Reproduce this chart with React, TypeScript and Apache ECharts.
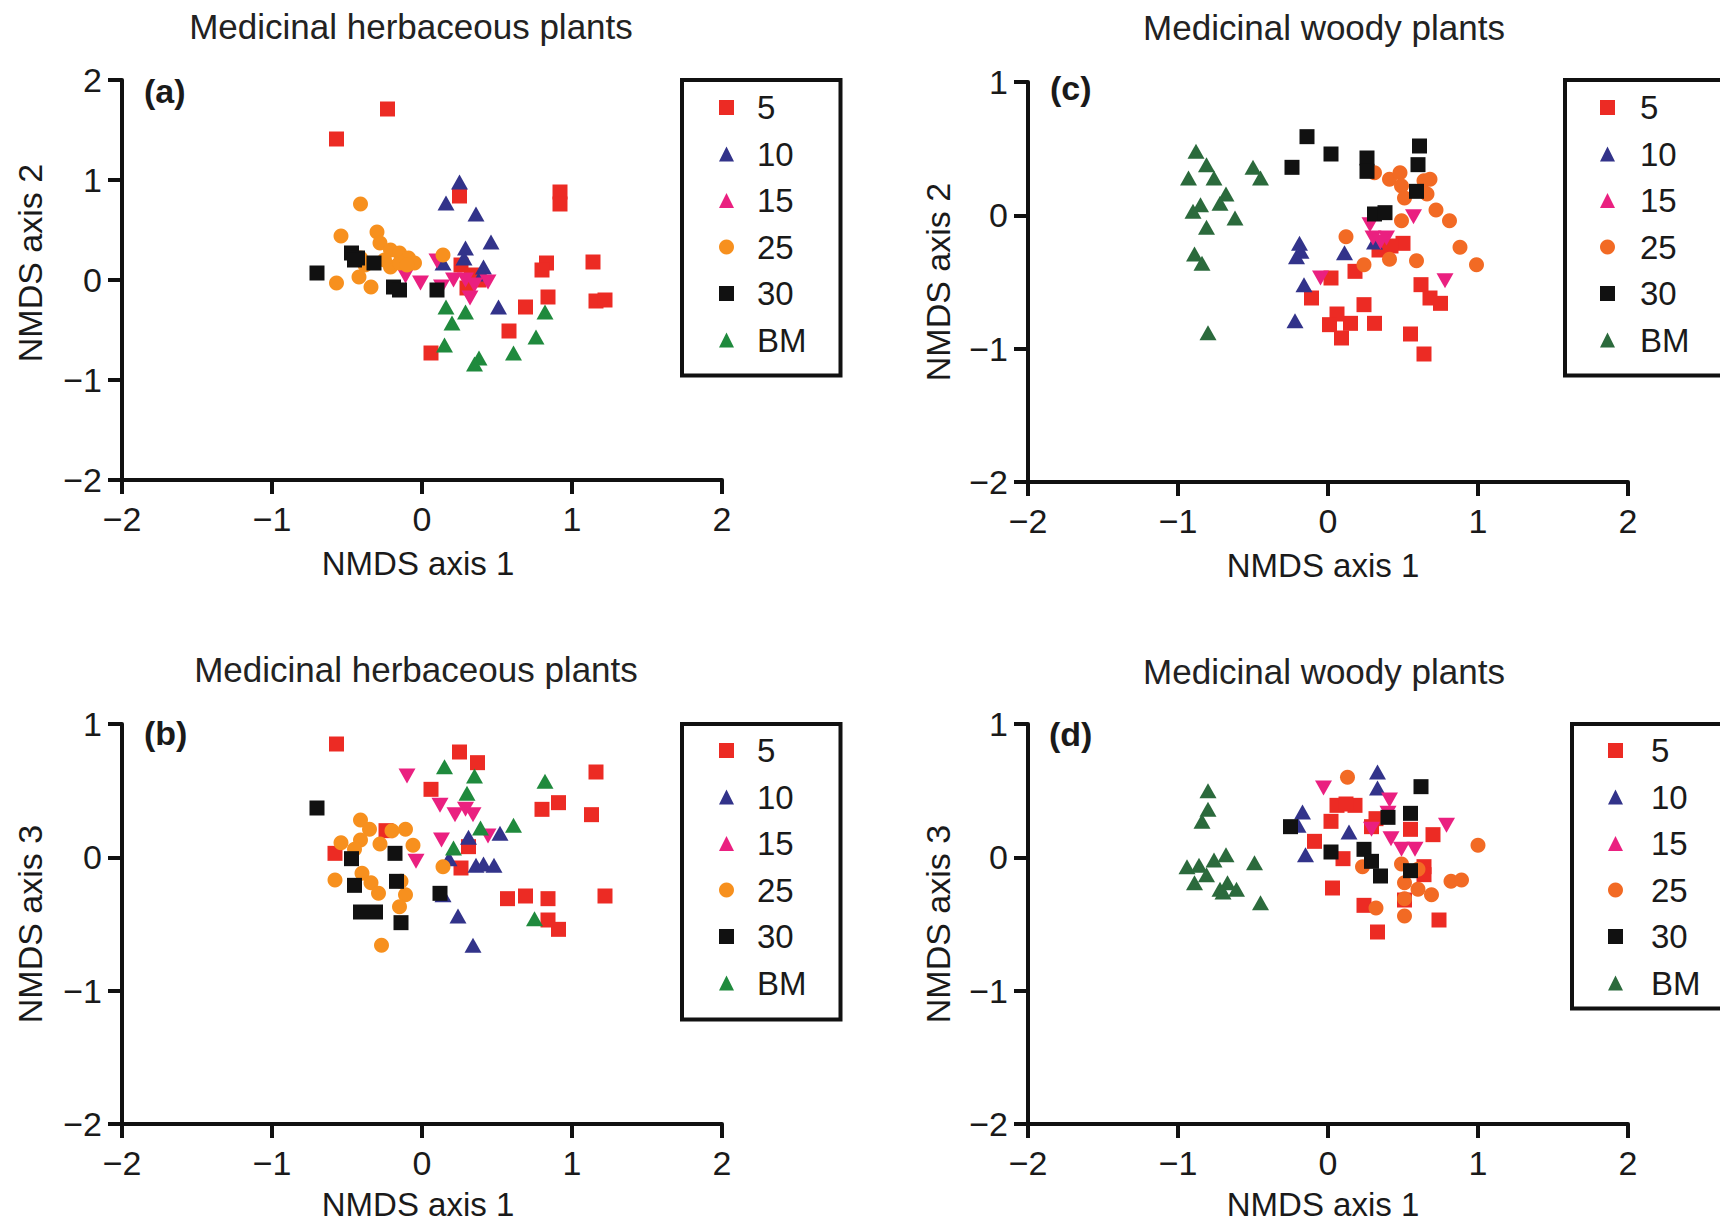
import React, { useEffect, useRef } from "react";
import * as echarts from "echarts";

const FONT = '"Liberation Sans", Arial, Helvetica, sans-serif';

const groupLabels = ["5", "10", "15", "25", "30", "BM"];
const xTicks = [-2, -1, 0, 1, 2];

// Panel (a): herbaceous, NMDS1 vs NMDS2
const a5 = [[-0.23,1.71],[-0.57,1.41],[0.25,0.84],[0.92,0.88],[0.92,0.76],[1.14,0.18],[0.83,0.17],[0.80,0.10],[0.84,-0.17],[0.69,-0.27],[0.58,-0.51],[0.06,-0.73],[1.16,-0.21],[1.22,-0.20],[0.26,0.15],[0.33,0.05],[0.38,0.0],[0.30,-0.08]];
const a10 = [[0.25,0.98],[0.16,0.77],[0.36,0.66],[0.46,0.38],[0.29,0.32],[0.28,0.22],[0.14,0.17],[0.41,0.13],[0.40,0.06],[0.51,-0.27]];
const a15 = [[-0.11,0.04],[-0.01,-0.03],[0.10,0.19],[0.13,-0.07],[0.21,0.0],[0.29,0.0],[0.32,-0.18],[0.44,-0.02],[0.35,-0.05]];
const a25 = [[-0.41,0.76],[-0.54,0.44],[-0.30,0.48],[-0.28,0.37],[-0.21,0.30],[-0.15,0.27],[-0.09,0.22],[-0.05,0.17],[-0.41,0.22],[-0.38,0.15],[-0.42,0.03],[-0.34,-0.07],[-0.57,-0.03],[-0.21,0.13],[-0.15,0.17],[0.14,0.25],[-0.25,0.20],[-0.10,0.15]];
const a30 = [[-0.70,0.07],[-0.47,0.27],[-0.43,0.22],[-0.32,0.17],[-0.19,-0.07],[-0.15,-0.10],[0.10,-0.10],[-0.45,0.20]];
const aBM = [[0.16,-0.27],[0.29,-0.32],[0.20,-0.43],[0.15,-0.65],[0.38,-0.78],[0.35,-0.84],[0.61,-0.73],[0.76,-0.57],[0.82,-0.32]];

// Panel (b): herbaceous, NMDS1 vs NMDS3
const b5 = [[-0.57,0.85],[0.25,0.79],[0.37,0.71],[1.16,0.64],[0.06,0.51],[0.91,0.41],[0.80,0.36],[1.13,0.32],[-0.24,0.20],[0.31,0.08],[-0.58,0.03],[0.26,-0.08],[0.57,-0.31],[0.69,-0.29],[0.84,-0.31],[1.22,-0.29],[0.84,-0.47],[0.91,-0.54]];
const b10 = [[0.52,0.18],[0.31,0.15],[0.18,-0.01],[0.36,-0.06],[0.41,-0.05],[0.48,-0.06],[0.14,-0.28],[0.24,-0.44],[0.34,-0.66]];
const b15 = [[-0.10,0.61],[0.12,0.39],[0.22,0.32],[0.29,0.36],[0.34,0.32],[0.13,0.13],[0.44,0.16],[-0.04,-0.03]];
const b25 = [[-0.41,0.28],[-0.35,0.21],[-0.41,0.13],[-0.54,0.11],[-0.45,0.06],[-0.11,0.21],[-0.06,0.09],[-0.40,-0.12],[-0.34,-0.19],[-0.29,-0.27],[-0.58,-0.17],[-0.14,-0.18],[-0.11,-0.28],[-0.15,-0.37],[-0.27,-0.66],[0.14,-0.07],[-0.28,0.10],[-0.20,0.20]];
const b30 = [[-0.70,0.37],[-0.47,-0.01],[-0.18,0.03],[-0.45,-0.21],[-0.17,-0.18],[-0.41,-0.41],[-0.31,-0.41],[-0.14,-0.49],[0.12,-0.27]];
const bBM = [[0.15,0.68],[0.35,0.61],[0.30,0.48],[0.82,0.57],[0.61,0.24],[0.39,0.22],[0.21,0.07],[0.75,-0.46]];

// Panel (c): woody, NMDS1 vs NMDS2
const c5 = [[0.50,-0.21],[0.34,-0.26],[0.42,-0.23],[0.18,-0.42],[0.02,-0.47],[-0.11,-0.62],[0.24,-0.67],[0.06,-0.74],[0.01,-0.82],[0.15,-0.81],[0.31,-0.81],[0.09,-0.92],[0.55,-0.89],[0.64,-1.04],[0.62,-0.52],[0.68,-0.62],[0.75,-0.66]];
const c10 = [[-0.19,-0.21],[-0.18,-0.27],[-0.21,-0.31],[0.11,-0.28],[0.31,-0.20],[-0.16,-0.52],[-0.22,-0.79]];
const c15 = [[0.57,-0.01],[0.28,-0.07],[0.30,-0.17],[0.39,-0.17],[-0.05,-0.47],[0.78,-0.49],[0.35,-0.20]];
const c25 = [[0.31,0.32],[0.41,0.27],[0.48,0.32],[0.49,0.22],[0.64,0.26],[0.68,0.27],[0.51,0.13],[0.66,0.16],[0.72,0.04],[0.81,-0.04],[0.49,-0.04],[0.12,-0.16],[0.88,-0.24],[0.99,-0.37],[0.59,-0.34],[0.24,-0.37],[0.41,-0.33]];
const c30 = [[-0.14,0.59],[0.02,0.46],[-0.24,0.36],[0.26,0.43],[0.26,0.33],[0.61,0.52],[0.60,0.38],[0.59,0.18],[0.31,0.01],[0.38,0.02]];
const cBM = [[-0.88,0.48],[-0.81,0.38],[-0.93,0.28],[-0.76,0.28],[-0.50,0.36],[-0.45,0.28],[-0.68,0.16],[-0.72,0.09],[-0.85,0.08],[-0.90,0.03],[-0.62,-0.02],[-0.81,-0.09],[-0.89,-0.29],[-0.84,-0.36],[-0.80,-0.88]];

// Panel (d): woody, NMDS1 vs NMDS3
const d5 = [[0.06,0.39],[0.18,0.39],[0.02,0.27],[0.32,0.29],[0.55,0.21],[0.70,0.17],[-0.09,0.12],[0.10,-0.01],[0.64,-0.07],[0.64,-0.13],[0.03,-0.23],[0.24,-0.36],[0.51,-0.32],[0.33,-0.56],[0.74,-0.47],[0.29,0.23],[0.12,0.40]];
const d10 = [[0.33,0.64],[0.33,0.52],[-0.17,0.34],[-0.20,0.24],[0.14,0.19],[-0.15,0.02]];
const d15 = [[-0.03,0.52],[0.41,0.43],[0.40,0.33],[0.29,0.21],[0.79,0.24],[0.42,0.14],[0.58,0.06],[0.49,0.06]];
const d25 = [[0.13,0.60],[1.00,0.09],[0.23,-0.07],[0.49,-0.05],[0.60,-0.09],[0.60,-0.24],[0.51,-0.19],[0.69,-0.28],[0.82,-0.18],[0.89,-0.17],[0.32,-0.38],[0.51,-0.44],[0.51,-0.31]];
const d30 = [[0.62,0.53],[-0.25,0.23],[0.55,0.33],[0.02,0.04],[0.24,0.06],[0.29,-0.03],[0.35,-0.14],[0.55,-0.10],[0.40,0.30]];
const dBM = [[-0.80,0.50],[-0.80,0.36],[-0.84,0.27],[-0.68,0.02],[-0.76,-0.02],[-0.49,-0.04],[-0.94,-0.07],[-0.86,-0.06],[-0.81,-0.13],[-0.89,-0.19],[-0.72,-0.24],[-0.67,-0.19],[-0.61,-0.24],[-0.45,-0.34],[-0.70,-0.26]];

const panelTitles = ["Medicinal herbaceous plants", "Medicinal herbaceous plants", "Medicinal woody plants", "Medicinal woody plants"];
const panelTags = ["(a)", "(b)", "(c)", "(d)"];
const yNames = ["NMDS axis 2", "NMDS axis 3", "NMDS axis 2", "NMDS axis 3"];
const xName = "NMDS axis 1";

const panelData = [
  [a5, a10, a15, a25, a30, aBM],
  [b5, b10, b15, b25, b30, bBM],
  [c5, c10, c15, c25, c30, cBM],
  [d5, d10, d15, d25, d30, dBM],
];
const yMins = [-2, -2, -2, -2];
const yMaxs = [2, 1, 1, 1];

const herbColors = ["#EC2B24", "#32338A", "#EA2080", "#F7901E", "#111111", "#1F8A3D"];
const woodyColors = ["#EC2B24", "#32338A", "#EA2080", "#F26A24", "#111111", "#2B6A3C"];

export default function App() {
  const ref = useRef<HTMLDivElement>(null);
  useEffect(() => {
    if (!ref.current) return;
    const chart = echarts.init(ref.current, undefined, { renderer: "svg" });

    const grids = [
      { left: 122, top: 80, width: 600, height: 400 },
      { left: 122, top: 724, width: 600, height: 400 },
      { left: 1028, top: 82, width: 600, height: 400 },
      { left: 1028, top: 724, width: 600, height: 400 },
    ];
    const symbols = ["rect", "triangle", "triangle", "circle", "rect", "triangle"];
    const rotates = [0, 0, 180, 0, 0, 0];
    const sizes: any[] = [15, [17, 15], [17, 15], 15, 15, [17, 15]];
    const keys = ["a", "b", "c", "d"];

    const fmt = (v: number) => (v < 0 ? "\u2212" + Math.abs(v) : String(v));
    const axisLine = { lineStyle: { color: "#111", width: 4 } };
    const axisTick = { length: 14, lineStyle: { color: "#111", width: 4 } };
    const labelStyle = { fontSize: 34, color: "#1a1a1a", fontFamily: FONT };

    const xAxis = grids.map((_, i) => ({
      type: "value", gridIndex: i, min: -2, max: 2, interval: 1,
      axisLine: { ...axisLine, onZero: false }, axisTick, splitLine: { show: false },
      axisLabel: { ...labelStyle, margin: 22, formatter: fmt },
    }));
    const yAxis = grids.map((_, i) => ({
      type: "value", gridIndex: i, min: yMins[i], max: yMaxs[i], interval: 1,
      axisLine: { ...axisLine, onZero: false }, axisTick, splitLine: { show: false },
      axisLabel: { ...labelStyle, margin: 20, formatter: fmt },
    }));

    const series: any[] = [];
    panelData.forEach((sets, p) => {
      const colors = p < 2 ? herbColors : woodyColors;
      sets.forEach((data, g) => {
        series.push({
          type: "scatter",
          name: groupLabels[g] + "|" + keys[p],
          xAxisIndex: p, yAxisIndex: p,
          data,
          symbol: symbols[g],
          symbolRotate: rotates[g],
          symbolSize: sizes[g],
          itemStyle: { color: colors[g], opacity: 1 },
          emphasis: { disabled: true },
        });
      });
    });

    const legendBase = {
      orient: "vertical",
      itemWidth: 15, itemHeight: 15, itemGap: 13.5,
      borderColor: "#111", borderWidth: 4, backgroundColor: "#fff",
      formatter: (n: string) => n.split("|")[0],
      selectedMode: false,
    };
    const legendText = (gap: number) => ({ fontSize: 33, lineHeight: 30, color: "#1a1a1a", fontFamily: FONT, padding: [0, 0, 0, gap] });
    const legend = [
      { ...legendBase, left: 682, top: 80, padding: [11, 34, 19, 37], textStyle: legendText(18), data: groupLabels.map((l) => l + "|a") },
      { ...legendBase, left: 682, top: 724, padding: [10, 34, 20, 37], textStyle: legendText(18), data: groupLabels.map((l) => l + "|b") },
      { ...legendBase, left: 1565, top: 80, padding: [11, 100, 19, 35], textStyle: legendText(20), data: groupLabels.map((l) => l + "|c") },
      { ...legendBase, left: 1572, top: 724, padding: [10, 100, 9, 36], textStyle: legendText(23), data: groupLabels.map((l) => l + "|d") },
    ];

    const titlePos = [[411, 26], [416, 669], [1324, 27], [1324, 671]];
    const tagPos = [[144, 91], [144, 733], [1050, 88], [1049, 734]];
    const xNamePos = [[418, 563], [418, 1204], [1323, 565], [1323, 1204]];
    const yNamePos = [[30, 263], [30, 924], [938, 282], [938, 924]];

    const graphic: any[] = [];
    for (let i = 0; i < 4; i++) {
      graphic.push({ type: "text", x: titlePos[i][0], y: titlePos[i][1], z: 100,
        style: { text: panelTitles[i], fontSize: 35, fontFamily: FONT, fill: "#222", textAlign: "center", textVerticalAlign: "middle" } });
      graphic.push({ type: "text", x: tagPos[i][0], y: tagPos[i][1], z: 100,
        style: { text: panelTags[i], fontSize: 34, fontWeight: "bold", fontFamily: FONT, fill: "#1a1a1a", textAlign: "left", textVerticalAlign: "middle" } });
      graphic.push({ type: "text", x: xNamePos[i][0], y: xNamePos[i][1], z: 100,
        style: { text: xName, fontSize: 33, fontFamily: FONT, fill: "#1a1a1a", textAlign: "center", textVerticalAlign: "middle" } });
      graphic.push({ type: "text", x: yNamePos[i][0], y: yNamePos[i][1], rotation: Math.PI / 2, z: 100,
        style: { text: yNames[i], fontSize: 34, fontFamily: FONT, fill: "#1a1a1a", textAlign: "center", textVerticalAlign: "middle" } });
    }

    chart.setOption({
      animation: false,
      backgroundColor: "#ffffff",
      grid: grids.map((g) => ({ ...g, containLabel: false })),
      xAxis, yAxis, series, legend, graphic,
    });
    return () => chart.dispose();
  }, []);
  return <div ref={ref} style={{ position: "absolute", left: 0, top: 0, width: 1720, height: 1222 }} />;
}
